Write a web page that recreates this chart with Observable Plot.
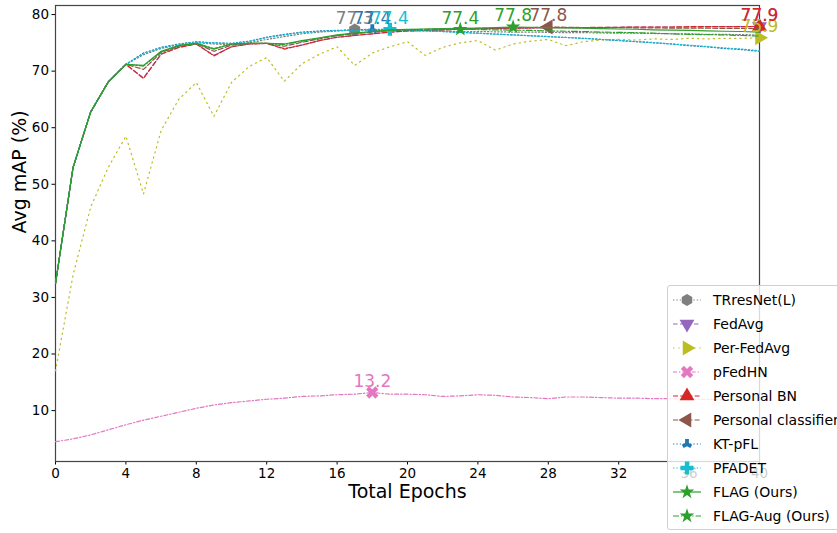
<!DOCTYPE html>
<html><head><meta charset="utf-8">
<script src="https://cdn.jsdelivr.net/npm/d3@7"></script>
<script src="https://cdn.jsdelivr.net/npm/@observablehq/plot@0.6"></script>
<style>
html,body{margin:0;padding:0;background:#fff;overflow:hidden;width:837px;height:533px}
#wrap{position:relative;width:837px;height:533px;overflow:hidden}
#legend{position:absolute;left:667px;top:285px;width:200px;height:245px;background:rgba(255,255,255,0.8);border:1px solid #d0d0d0;border-radius:3px;box-sizing:border-box}
</style></head><body><div id="wrap"><div id="chart"></div><div id="legend"></div></div>
<script>
const epochs = [0,1,2,3,4,5,6,7,8,9,10,11,12,13,14,15,16,17,18,19,20,21,22,23,24,25,26,27,28,29,30,31,32,33,34,35,36,37,38,39,40];
const xTicks = [0,4,8,12,16,20,24,28,32,36,40];
const yTicks = [10,20,30,40,50,60,70,80];

const trresnet = [32.5,53.0,62.8,68.1,71.2, 72.9,74.0,74.6,75.0,74.8, 74.7,75.0,75.6,76.1,76.6, 76.9,77.1,77.3,77.2,77.2, 77.15,77.1,77.1,77.0,77.0, 76.95,76.9,76.9,76.85,76.8, 76.8,76.75,76.7,76.7,76.65, 76.6,76.6,76.5,76.5,76.45, 76.4];
const fedavg = [32.5,53.0,62.8,68.1,71.2, 68.8,73.0,74.2,74.8,72.8, 74.3,74.8,74.9,74.0,74.6, 75.4,76.0,76.3,76.6,76.9, 77.1,77.2,77.3,77.4,77.5, 77.5,77.6,77.6,77.7,77.7, 77.7,77.7,77.75,77.8,77.8, 77.8,77.8,77.85,77.85,77.85, 77.9];
const perFedavg = [17.0,34.0,46.0,53.0,58.5, 48.3,59.5,65.0,68.0,62.0, 68.0,70.8,72.4,68.2,71.3, 73.0,74.3,71.0,73.2,74.3, 75.2,72.8,74.2,75.0,75.4, 73.7,74.8,75.3,75.6,74.5, 75.2,75.5,75.6,75.5,75.7, 75.6,75.8,75.7,75.8,75.8, 75.9];
const pfedhn = [4.5,5.0,5.7,6.6,7.5, 8.3,9.0,9.7,10.4,11.0, 11.4,11.7,12.0,12.2,12.5, 12.6,12.8,12.9,13.2,12.9, 12.9,12.8,12.5,12.6,12.8, 12.7,12.4,12.3,12.1,12.4, 12.4,12.3,12.2,12.2,12.1, 12.1,12.0,12.0,11.9,11.9, 11.8];
const personalBN = [32.5,53.0,62.8,68.1,71.2, 68.7,73.0,74.2,74.8,72.7, 74.3,74.8,74.9,73.9,74.6, 75.4,76.0,76.3,76.6,76.9, 77.1,77.2,77.3,77.4,77.5, 77.55,77.6,77.65,77.7,77.7, 77.7,77.75,77.75,77.8,77.8, 77.8,77.85,77.85,77.85,77.85, 77.9];
const personalClassifier = [32.5,53.0,62.8,68.1,71.2, 70.3,73.3,74.4,74.9,73.5, 74.6,74.9,74.9,74.4,75.1, 75.7,76.3,76.6,76.9,77.1, 77.3,77.4,77.45,77.5,77.55, 77.6,77.65,77.7,77.8,77.75, 77.7,77.7,77.7,77.65,77.65, 77.6,77.6,77.6,77.55,77.55, 77.5];
const ktpfl = [32.5,53.0,62.8,68.1,71.2, 73.2,74.2,74.8,75.2,75.0, 74.9,75.3,76.0,76.5,76.9, 77.1,77.2,77.3,77.4,77.35, 77.3,77.15,77.0,76.85,76.7, 76.55,76.4,76.25,76.1,75.95, 75.8,75.6,75.4,75.2,75.0, 74.8,74.5,74.3,74.0,73.8, 73.5];
const pfadet = [32.5,53.0,62.8,68.1,71.2, 73.0,74.1,74.7,75.1,75.0, 74.9,75.2,75.9,76.4,76.8, 77.0,77.15,77.25,77.3,77.4, 77.3,77.15,77.0,76.85,76.7, 76.55,76.4,76.25,76.1,75.95, 75.8,75.6,75.45,75.25,75.05, 74.8,74.6,74.35,74.1,73.9, 73.6];
const flag = [32.5,53.0,62.8,68.1,71.2, 71.0,73.5,74.5,74.9,73.9, 74.8,74.9,74.9,74.8,75.4, 75.9,76.4,76.7,77.0,77.3, 77.4,77.45,77.5,77.55,77.6, 77.7,77.8,77.75,77.7,77.65, 77.6,77.5,77.45,77.4,77.3, 77.25,77.2,77.1,77.05,77.0, 76.9];
const flagAug = [32.5,53.0,62.8,68.1,71.2, 70.9,73.4,74.5,74.9,74.0, 74.8,74.9,74.9,74.7,75.3, 75.8,76.3,76.7,77.0,77.2, 77.3,77.3,77.35,77.4,77.35, 77.3,77.25,77.2,77.1,77.05, 77.0,76.9,76.85,76.8,76.7, 76.6,76.5,76.45,76.4,76.3, 76.2];

const names = ["TRresNet(L)","FedAvg","Per-FedAvg","pFedHN","Personal BN","Personal classifier","KT-pFL","PFADET","FLAG (Ours)","FLAG-Aug (Ours)"];
const seriesValues = [trresnet, fedavg, perFedavg, pfedhn, personalBN, personalClassifier, ktpfl, pfadet, flag, flagAug];
const colors = ["#7f7f7f","#9467bd","#bcbd22","#e377c2","#d62728","#8c564b","#1f77b4","#17becf","#2ca02c","#2ca02c"];
const dashes = ["1.3,2.1","4.5,2.5","1.3,4","4,2,1.3,2","5,2.2","5,2.2","1.3,2.1","1.3,2.1",null,"6,2,1.3,2"];
const symbols = ["hexagon","triangle","triangle","cross","triangle","triangle","wye","cross","star","star"];
const rotations = [0,180,90,45,0,-90,180,0,0,0];
const sizes = [5.5,5.5,5.5,5.5,5.5,5.5,4,5.5,4.6,4.6];

const marks = [
  Plot.axisX({ticks: xTicks, tickSize: 3.5, tickPadding: 3, label: null, fontSize: 13.5}),
  Plot.axisY({ticks: yTicks, tickSize: 3.5, tickPadding: 3, label: null, fontSize: 13.5}),
  Plot.frame({stroke: "#444", strokeWidth: 1.2})
];
seriesValues.forEach((vals, k) => {
  const rows = epochs.map((e, i) => ({e, v: vals[i]}));
  const mi = d3.maxIndex(vals);
  const best = [rows[mi]];
  marks.push(Plot.line(rows, {x: "e", y: "v", stroke: colors[k], strokeWidth: 1.2, strokeDasharray: dashes[k]}));
  marks.push(Plot.dot(best, {x: "e", y: "v", symbol: symbols[k], rotate: rotations[k], fill: colors[k], stroke: "none", r: sizes[k]}));
});
seriesValues.forEach((vals, k) => {
  const mi = d3.maxIndex(vals);
  marks.push(Plot.text([{e: epochs[mi], v: vals[mi]}], {x: "e", y: "v", text: d => d.v.toFixed(1), fill: colors[k], fontSize: 17, dy: -11}));
});
marks.push(Plot.text(["Total Epochs"], {frameAnchor: "bottom", text: d => d, dy: 36, fontSize: 19, fill: "black"}));
marks.push(Plot.text(["Avg mAP (%)"], {frameAnchor: "left", text: d => d, dx: -36, rotate: -90, fontSize: 19, fill: "black"}));

const chart = Plot.plot({
  width: 837, height: 533,
  marginLeft: 55, marginRight: 78, marginTop: 5, marginBottom: 72,
  x: {domain: [0, 40]},
  y: {domain: [1, 81.6]},
  style: {fontFamily: "DejaVu Sans", fontSize: "13.5px", background: "white", color: "black", overflow: "visible"},
  marks
});
document.getElementById("chart").appendChild(chart);

// legend
const lg = d3.select("#legend").append("svg").attr("width", 200).attr("height", 243);
const sym = {triangle: d3.symbolTriangle, cross: d3.symbolCross, star: d3.symbolStar, wye: d3.symbolWye};
names.forEach((name, k) => {
  const y = 14 + k * 24;
  const g = lg.append("g").attr("transform", `translate(0,${y})`);
  g.append("line").attr("x1", 5).attr("x2", 33).attr("y1", 0).attr("y2", 0)
    .attr("stroke", colors[k]).attr("stroke-width", 1.2).attr("stroke-dasharray", dashes[k]);
  let path;
  const r = sizes[k];
  if (symbols[k] === "hexagon") {
    const pts = d3.range(6).map(j => { const a = Math.PI / 3 * j - Math.PI / 2; return [r * 1.1 * Math.cos(a), r * 1.1 * Math.sin(a)]; });
    path = "M" + pts.map(p => p.join(",")).join("L") + "Z";
  } else {
    path = d3.symbol(sym[symbols[k]], Math.PI * r * r)();
  }
  g.append("path").attr("d", path).attr("fill", colors[k])
    .attr("transform", `translate(19,0) rotate(${rotations[k]})`);
  g.append("text").attr("x", 45).attr("y", 0).attr("dy", "0.35em")
    .attr("font-family", "DejaVu Sans").attr("font-size", 14).attr("fill", "black").text(name);
});
</script>
</body></html>
